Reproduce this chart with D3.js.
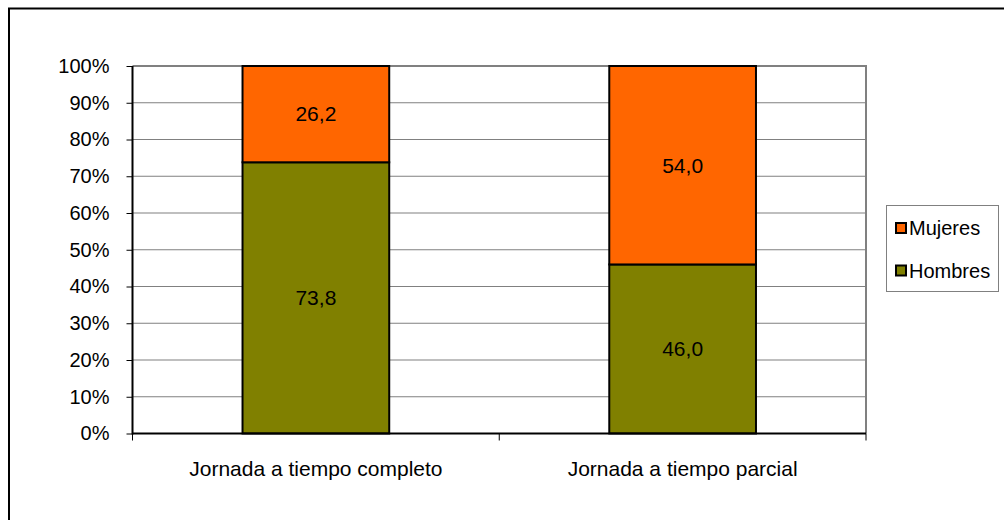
<!DOCTYPE html>
<html><head><meta charset="utf-8">
<script src="https://cdn.jsdelivr.net/npm/d3@7"></script>
<style>body{margin:0;background:#fff}svg{display:block;font-family:"Liberation Sans",Arial,sans-serif}</style>
</head><body><svg id="c" width="1004" height="520"></svg>
<script>
const categories = ["Jornada a tiempo completo", "Jornada a tiempo parcial"];
const hombres = [73.8, 46.0];
const mujeres = [26.2, 54.0];
const seriesNames = ["Hombres", "Mujeres"];
const colors = {Hombres: "#808000", Mujeres: "#FF6600"};
const yTicks = [0,10,20,30,40,50,60,70,80,90,100];

const FS = 20, FS2 = 21;
const svg = d3.select("#c");
svg.append("rect").attr("x",9).attr("y",8.5).attr("width",1010).attr("height",530)
  .attr("fill","#fff").attr("stroke","#000").attr("stroke-width",2);

const L=132.5, R=866, T=66, B=433.5;
const x = d3.scaleBand().domain(categories).range([L,R]).paddingInner(0.6).paddingOuter(0.3);
const y = d3.scaleLinear().domain([0,100]).range([B,T]);

// gridlines
svg.append("g").selectAll("line").data(yTicks.filter(d=>d>0)).join("line")
  .attr("x1",L).attr("x2",R).attr("y1",d=>y(d)).attr("y2",d=>y(d))
  .attr("stroke","#808080").attr("stroke-width",d=>d===100?2:1.2);
// right border
svg.append("line").attr("x1",R).attr("x2",R).attr("y1",T-1).attr("y2",B).attr("stroke","#808080").attr("stroke-width",2);

const data = categories.map((c,i)=>({cat:c, Hombres:hombres[i], Mujeres:mujeres[i]}));
const stack = d3.stack().keys(seriesNames)(data);
const g = svg.append("g");
stack.forEach(s=>{
  g.selectAll(null).data(s).join("rect")
    .attr("x",d=>x(d.data.cat)).attr("width",x.bandwidth())
    .attr("y",d=>y(d[1])).attr("height",d=>y(d[0])-y(d[1]))
    .attr("fill",colors[s.key]).attr("stroke","#000").attr("stroke-width",2);
  g.selectAll(null).data(s).join("text")
    .attr("x",d=>x(d.data.cat)+x.bandwidth()/2).attr("y",d=>(y(d[0])+y(d[1]))/2)
    .attr("dy","0.35em").attr("text-anchor","middle").attr("font-size",FS2).attr("fill","#000")
    .text(d=>d3.format(".1f")(d[1]-d[0]).replace(".",","));
});

// y axis
const ya = svg.append("g").attr("transform",`translate(${L},0)`)
  .call(d3.axisLeft(y).tickValues(yTicks).tickSize(6).tickFormat(d=>d+"%"));
ya.select(".domain").remove();
ya.selectAll(".tick line").attr("stroke","#000");
ya.selectAll(".tick text").attr("font-size",FS).attr("font-family","Liberation Sans, Arial, sans-serif").attr("fill","#000").attr("x",-23);
svg.append("line").attr("x1",L).attr("x2",L).attr("y1",T).attr("y2",B+1).attr("stroke","#000").attr("stroke-width",2);

// x axis
svg.append("line").attr("x1",L).attr("x2",R).attr("y1",B).attr("y2",B).attr("stroke","#000").attr("stroke-width",2);
const xt = [L, (L+R)/2, R];
svg.append("g").selectAll("line").data(xt).join("line")
  .attr("x1",d=>d).attr("x2",d=>d).attr("y1",B).attr("y2",B+7).attr("stroke","#000").attr("stroke-width",1);
svg.append("g").selectAll("text").data(categories).join("text")
  .attr("x",d=>x(d)+x.bandwidth()/2).attr("y",469).attr("dy","0.35em").attr("text-anchor","middle")
  .attr("font-size",FS2).attr("fill","#000").text(d=>d);

// legend
const lg = svg.append("g");
lg.append("rect").attr("x",886.5).attr("y",205.5).attr("width",112).attr("height",86)
  .attr("fill","#fff").attr("stroke","#808080").attr("stroke-width",1);
const legendItems = ["Mujeres","Hombres"];
legendItems.forEach((k,i)=>{
  const cy = 228 + i*42.5;
  lg.append("rect").attr("x",896).attr("y",cy-5).attr("width",10).attr("height",10)
    .attr("fill",colors[k]).attr("stroke","#000").attr("stroke-width",2);
  lg.append("text").attr("x",909).attr("y",cy).attr("dy","0.35em").attr("font-size",FS).attr("fill","#000").text(k);
});
</script></body></html>
